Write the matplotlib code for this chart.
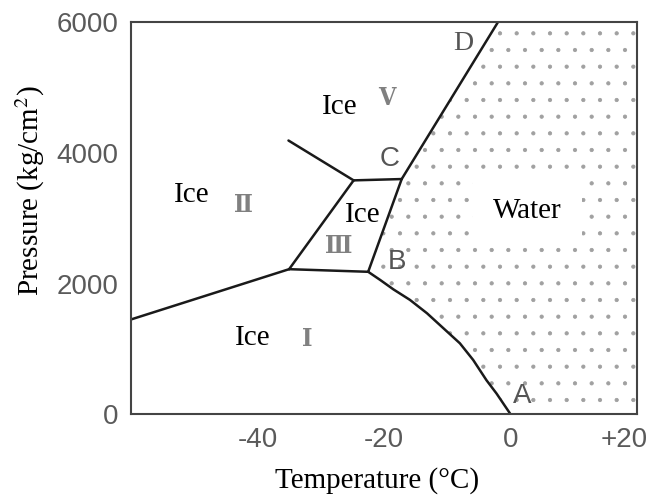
import numpy as np
import matplotlib.pyplot as plt
from matplotlib.patches import Polygon
from matplotlib.transforms import ScaledTranslation

# phase boundaries (temperature degC, pressure kg/cm2)
ice1_ice3_T = [-35.0, -22.5]
ice1_ice3_P = [2220, 2180]
ice1_ice2_T = [-60.0, -35.0]
ice1_ice2_P = [1450, 2220]
melt1_T = [-22.5, -20.6, -18.5, -15.9, -13.2, -10.6, -8.0, -5.9, -3.8, -2.2, 0.0]   # B -> A
melt1_P = [2180, 2055, 1910, 1750, 1545, 1315, 1085, 830, 520, 315, 0]
ice2_ice3_T = [-35.0, -24.8]
ice2_ice3_P = [2220, 3580]
ice3_ice5_T = [-24.8, -17.2]
ice3_ice5_P = [3580, 3600]
ice2_ice5_T = [-35.1, -24.8]
ice2_ice5_P = [4190, 3580]
melt3_T = [-22.5, -17.2]   # B -> C
melt3_P = [2180, 3600]
melt5_T = [-17.2, -2.0]    # C -> D
melt5_P = [3600, 6000]

ticks_T = [-40, -20, 0, 20]
ticks_T_lbl = ['-40', '-20', '0', '+20']
ticks_P = [0, 2000, 4000, 6000]

plt.rcParams['hatch.linewidth'] = 0.6

fig = plt.figure(figsize=(6.5, 4.96), dpi=100)
ax = fig.add_axes([0.2015, 0.165, 0.7785, 0.79])
ax.set_xlim(-60, 20)
ax.set_ylim(0, 6000)

# liquid region, stippled
liq_T = melt1_T[::-1] + melt3_T[1:] + melt5_T[1:] + [20, 20]
liq_P = melt1_P[::-1] + melt3_P[1:] + melt5_P[1:] + [6000, 0]
ax.add_patch(Polygon(np.column_stack([liq_T, liq_P]), closed=True,
                     facecolor='white', edgecolor='#a0a0a0', linewidth=0,
                     hatch='.', zorder=1))

lw = 1.8
for T, P in [(ice1_ice3_T, ice1_ice3_P), (ice1_ice2_T, ice1_ice2_P),
             (melt1_T, melt1_P), (ice2_ice3_T, ice2_ice3_P),
             (ice3_ice5_T, ice3_ice5_P), (ice2_ice5_T, ice2_ice5_P),
             (melt3_T, melt3_P), (melt5_T, melt5_P)]:
    ax.plot(T, P, color='#1a1a1a', lw=lw, solid_capstyle='round',
            solid_joinstyle='round', zorder=4)

for s in ax.spines.values():
    s.set_color('#444444')
    s.set_linewidth(1.5)
    s.set_zorder(5)

ax.set_xticks(ticks_T)
ax.set_xticklabels(ticks_T_lbl)
ax.set_yticks(ticks_P)
ax.tick_params(length=0, labelsize=20, labelcolor='#5a5a5a', pad=9)
for lbl in ax.get_xticklabels() + ax.get_yticklabels():
    lbl.set_family('Liberation Sans')
last = ax.get_xticklabels()[-1]
last.set_transform(last.get_transform() + ScaledTranslation(-0.13, 0, fig.dpi_scale_trans))

serif = 'Liberation Serif'
ax.set_xlabel('Temperature (°C)', family=serif, fontsize=21)
ax.xaxis.set_label_coords(0.486, -0.135)
ax.set_ylabel('Pressure (kg/cm$^2$)', family=serif, fontsize=21)
ax.yaxis.set_label_coords(-0.165, 0.57)
ax.yaxis.label.set_math_fontfamily('stix')


def ice(T, P, box=False):
    kw = {}
    if box:
        kw['bbox'] = dict(boxstyle='square,pad=0.15', fc='white', ec='none')
    ax.text(T, P, 'Ice', family=serif, fontsize=21, ha='center', va='center',
            zorder=3, **kw)


def roman(T, P, s):
    ax.text(T, P, s, family='DejaVu Serif', fontstretch='condensed', fontweight='bold',
            fontsize=18, color='#808080', ha='center', va='center', zorder=3)


ice(-27.0, 4710); roman(-19.5, 4840, 'V')
ice(-50.4, 3357); roman(-42.2, 3204, 'Ⅱ')
ice(-23.3, 3050, box=True)
roman(-27.2, 2580, 'Ⅲ')
ice(-40.8, 1165); roman(-32.1, 1150, 'Ⅰ')
ax.text(2.7, 3112, 'Water', family=serif, fontsize=21, ha='center', va='center', zorder=3,
        bbox=dict(boxstyle='square,pad=0.7', fc='white', ec='none'))

for T, P, s, fam in [(1.9, 276, 'A', 'Liberation Sans'), (-18.0, 2330, 'B', 'Liberation Sans'),
                     (-19.1, 3910, 'C', 'Liberation Sans'), (-7.5, 5670, 'D', serif)]:
    ax.text(T, P, s, family=fam, fontsize=20, color='#555555',
            ha='center', va='center', zorder=3)

fig.savefig('out.png', dpi=100)
